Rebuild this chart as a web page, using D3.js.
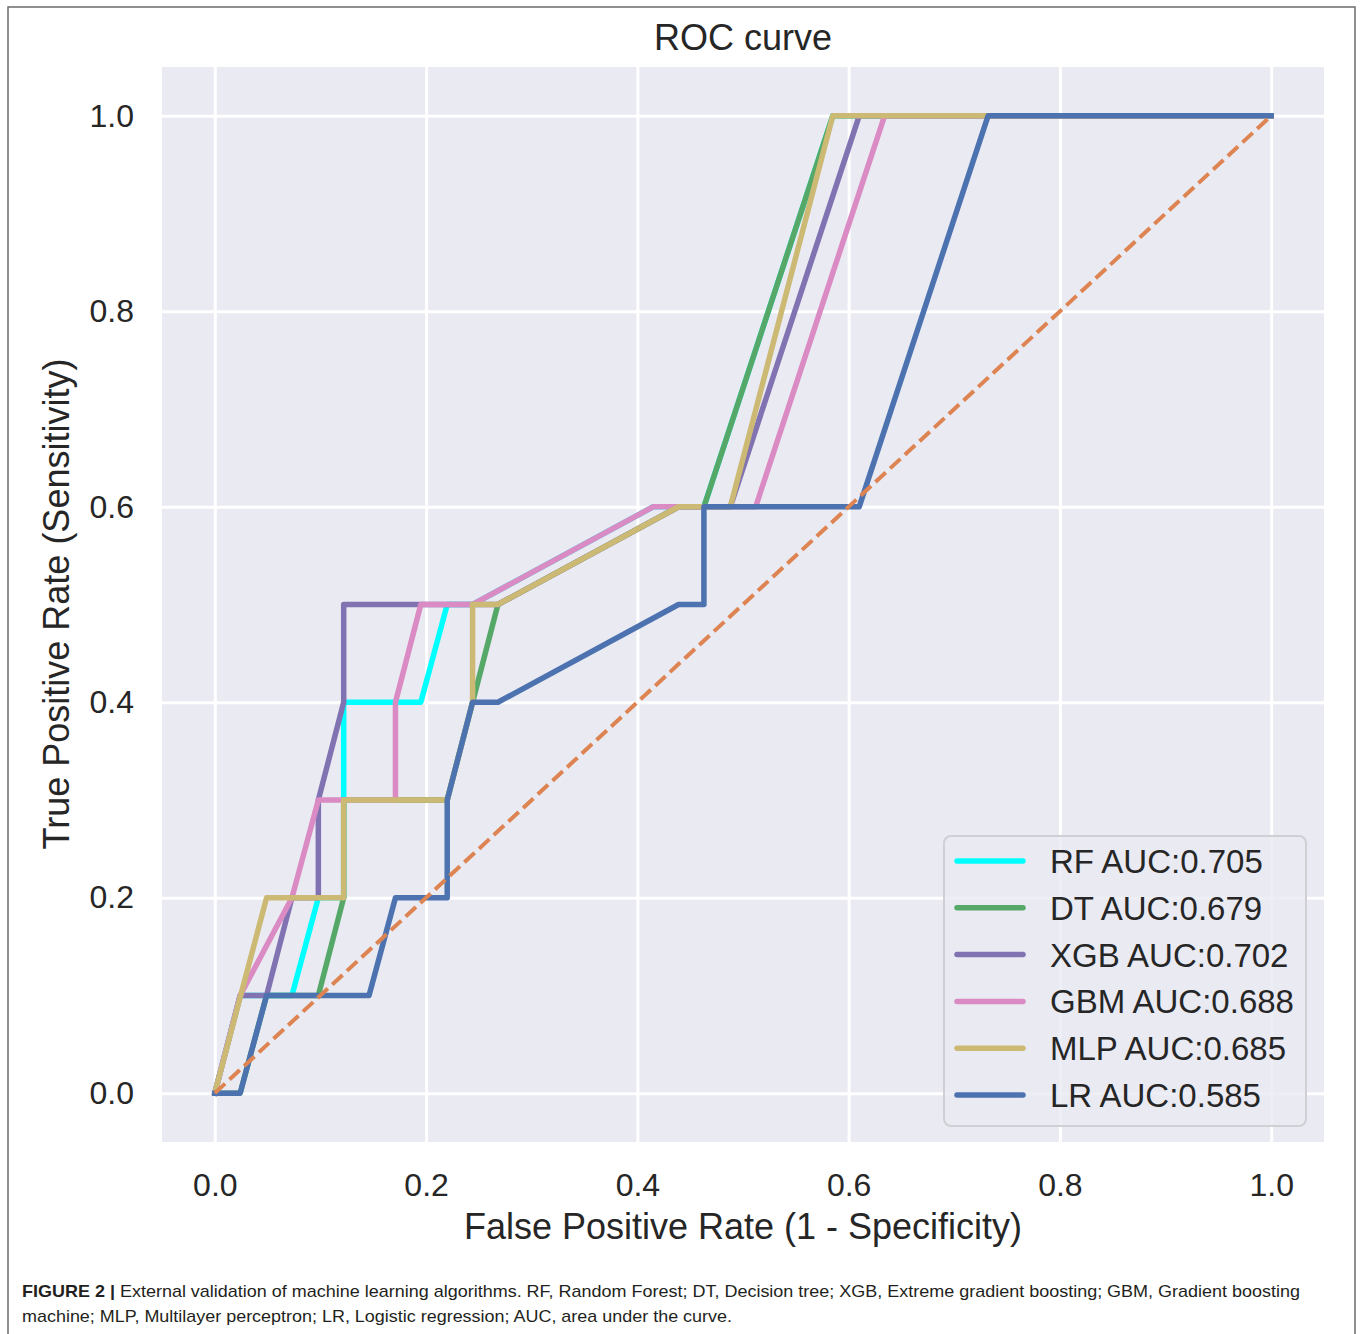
<!doctype html>
<html lang="en">
<head>
  <meta charset="UTF-8">
  <title>ROC curve</title>
  <script src="https://cdnjs.cloudflare.com/ajax/libs/d3/7.8.5/d3.min.js"></script>
  <style>
  body { margin: 0; background: #fff; }
  svg { font-family: "Liberation Sans", Arial, sans-serif; }
  </style>
</head>
<body>
<script>

// ROC points (fpr, tpr)
var rfFpr  = [0, 0.024, 0.073, 0.098, 0.122, 0.122, 0.195, 0.220, 0.244, 0.415, 0.463, 0.585, 1];
var rfTpr  = [0, 0.1, 0.1, 0.2, 0.2, 0.4, 0.4, 0.5, 0.5, 0.6, 0.6, 1, 1];
var dtFpr  = [0, 0.024, 0.049, 0.098, 0.122, 0.122, 0.220, 0.244, 0.268, 0.439, 0.463, 0.585, 1];
var dtTpr  = [0, 0, 0.1, 0.1, 0.2, 0.3, 0.3, 0.4, 0.5, 0.6, 0.6, 1, 1];
var xgbFpr = [0, 0.024, 0.049, 0.073, 0.098, 0.098, 0.122, 0.122, 0.268, 0.439, 0.488, 0.610, 1];
var xgbTpr = [0, 0.1, 0.1, 0.2, 0.2, 0.3, 0.4, 0.5, 0.5, 0.6, 0.6, 1, 1];
var gbmFpr = [0, 0.024, 0.073, 0.098, 0.171, 0.171, 0.195, 0.244, 0.415, 0.512, 0.634, 1];
var gbmTpr = [0, 0.1, 0.2, 0.3, 0.3, 0.4, 0.5, 0.5, 0.6, 0.6, 1, 1];
var mlpFpr = [0, 0.049, 0.122, 0.122, 0.220, 0.244, 0.244, 0.268, 0.439, 0.488, 0.585, 1];
var mlpTpr = [0, 0.2, 0.2, 0.3, 0.3, 0.4, 0.5, 0.5, 0.6, 0.6, 1, 1];
var lrFpr  = [0, 0.024, 0.049, 0.146, 0.171, 0.220, 0.220, 0.244, 0.268, 0.439, 0.463, 0.463, 0.610, 0.732, 1];
var lrTpr  = [0, 0, 0.1, 0.1, 0.2, 0.2, 0.3, 0.4, 0.4, 0.5, 0.5, 0.6, 0.6, 1, 1];

var names  = ["RF", "DT", "XGB", "GBM", "MLP", "LR"];
var aucs   = ["0.705", "0.679", "0.702", "0.688", "0.685", "0.585"];
var colors = ["#00ffff", "#55a868", "#8172b2", "#da8bc3", "#ccb974", "#4c72b0"];
var ticks  = [0, 0.2, 0.4, 0.6, 0.8, 1.0];

var series = [
  [rfFpr, rfTpr], [dtFpr, dtTpr], [xgbFpr, xgbTpr],
  [gbmFpr, gbmTpr], [mlpFpr, mlpTpr], [lrFpr, lrTpr]
];

var w = 1360, h = 1334;
var pLeft = 162, pRight = 1324, pTop = 67, pBottom = 1142;

var svg = d3.select('body')
  .append('svg')
  .attr('width', w)
  .attr('height', h);

// figure frame
svg.append('rect')
  .attr('x', 8).attr('y', 7)
  .attr('width', 1347).attr('height', 1340)
  .attr('fill', 'none')
  .attr('stroke', '#6b6b6b')
  .attr('stroke-width', 1.5);

var x = d3.scaleLinear().domain([-0.05, 1.05]).range([pLeft, pRight]);
var y = d3.scaleLinear().domain([-0.05, 1.05]).range([pBottom, pTop]);

svg.append('rect')
  .attr('x', pLeft).attr('y', pTop)
  .attr('width', pRight - pLeft).attr('height', pBottom - pTop)
  .attr('fill', '#eaeaf2');

// grid + tick labels from the axes
var gx = svg.append('g')
  .attr('transform', 'translate(0,' + pBottom + ')')
  .call(d3.axisBottom(x).tickValues(ticks).tickSize(-(pBottom - pTop)).tickFormat(d3.format('.1f')).tickPadding(31));
var gy = svg.append('g')
  .attr('transform', 'translate(' + pLeft + ',0)')
  .call(d3.axisLeft(y).tickValues(ticks).tickSize(-(pRight - pLeft)).tickFormat(d3.format('.1f')).tickPadding(28));

[gx, gy].forEach(function(g) {
  g.select('.domain').remove();
  g.selectAll('.tick line').attr('stroke', '#fff').attr('stroke-width', 3);
  g.selectAll('.tick text')
    .attr('font-size', 32)
    .attr('font-family', '"Liberation Sans", Arial, sans-serif')
    .attr('fill', '#262626');
});

// curves
var line = d3.line()
  .x(function(d) { return x(d[0]); })
  .y(function(d) { return y(d[1]); });

series.forEach(function(s, i) {
  var pts = s[0].map(function(f, j) { return [f, s[1][j]]; });
  svg.append('path')
    .datum(pts)
    .attr('d', line)
    .attr('fill', 'none')
    .attr('stroke', colors[i])
    .attr('stroke-width', 5.5)
    .attr('stroke-linejoin', 'round')
    .attr('stroke-linecap', 'square');
});

// chance line
svg.append('path')
  .datum([[0, 0], [1, 1]])
  .attr('d', line)
  .attr('stroke', '#dd8452')
  .attr('stroke-width', 4)
  .attr('stroke-dasharray', '14,6');

// legend
var lg = svg.append('g');
lg.append('rect')
  .attr('x', 944).attr('y', 836)
  .attr('width', 362).attr('height', 290)
  .attr('rx', 7)
  .attr('fill', '#eaeaf2').attr('fill-opacity', 0.8)
  .attr('stroke', '#cfcfd4').attr('stroke-width', 2);

lg.selectAll('line.key')
  .data(names)
  .enter()
  .append('line')
  .attr('x1', 957).attr('x2', 1023)
  .attr('y1', function(d, i) { return 861 + i * 46.8; })
  .attr('y2', function(d, i) { return 861 + i * 46.8; })
  .attr('stroke', function(d, i) { return colors[i]; })
  .attr('stroke-width', 5.5)
  .attr('stroke-linecap', 'round');

lg.selectAll('text')
  .data(names)
  .enter()
  .append('text')
  .text(function(d, i) { return d + ' AUC:' + aucs[i]; })
  .attr('x', 1050)
  .attr('y', function(d, i) { return 873 + i * 46.8; })
  .attr('font-size', 33)
  .attr('fill', '#262626');

// titles
svg.append('text')
  .text('ROC curve')
  .attr('x', 743).attr('y', 50)
  .attr('text-anchor', 'middle')
  .attr('font-size', 36)
  .attr('fill', '#262626');

svg.append('text')
  .text('False Positive Rate (1 - Specificity)')
  .attr('x', 743).attr('y', 1239)
  .attr('text-anchor', 'middle')
  .attr('font-size', 36)
  .attr('fill', '#262626');

svg.append('text')
  .text('True Positive Rate (Sensitivity)')
  .attr('transform', 'translate(69,604) rotate(-90)')
  .attr('text-anchor', 'middle')
  .attr('font-size', 36)
  .attr('fill', '#262626');

// caption
var cap1 = svg.append('text')
  .attr('x', 22).attr('y', 1297)
  .attr('font-size', 17)
  .attr('fill', '#231f20')
  .attr('textLength', 1278)
  .attr('lengthAdjust', 'spacingAndGlyphs');
cap1.append('tspan').attr('font-weight', 'bold').text('FIGURE 2 | ');
cap1.append('tspan').text('External validation of machine learning algorithms. RF, Random Forest; DT, Decision tree; XGB, Extreme gradient boosting; GBM, Gradient boosting');

svg.append('text')
  .attr('x', 22).attr('y', 1322)
  .attr('font-size', 17)
  .attr('fill', '#231f20')
  .attr('textLength', 710)
  .attr('lengthAdjust', 'spacingAndGlyphs')
  .text('machine; MLP, Multilayer perceptron; LR, Logistic regression; AUC, area under the curve.');

</script>
</body>
</html>
